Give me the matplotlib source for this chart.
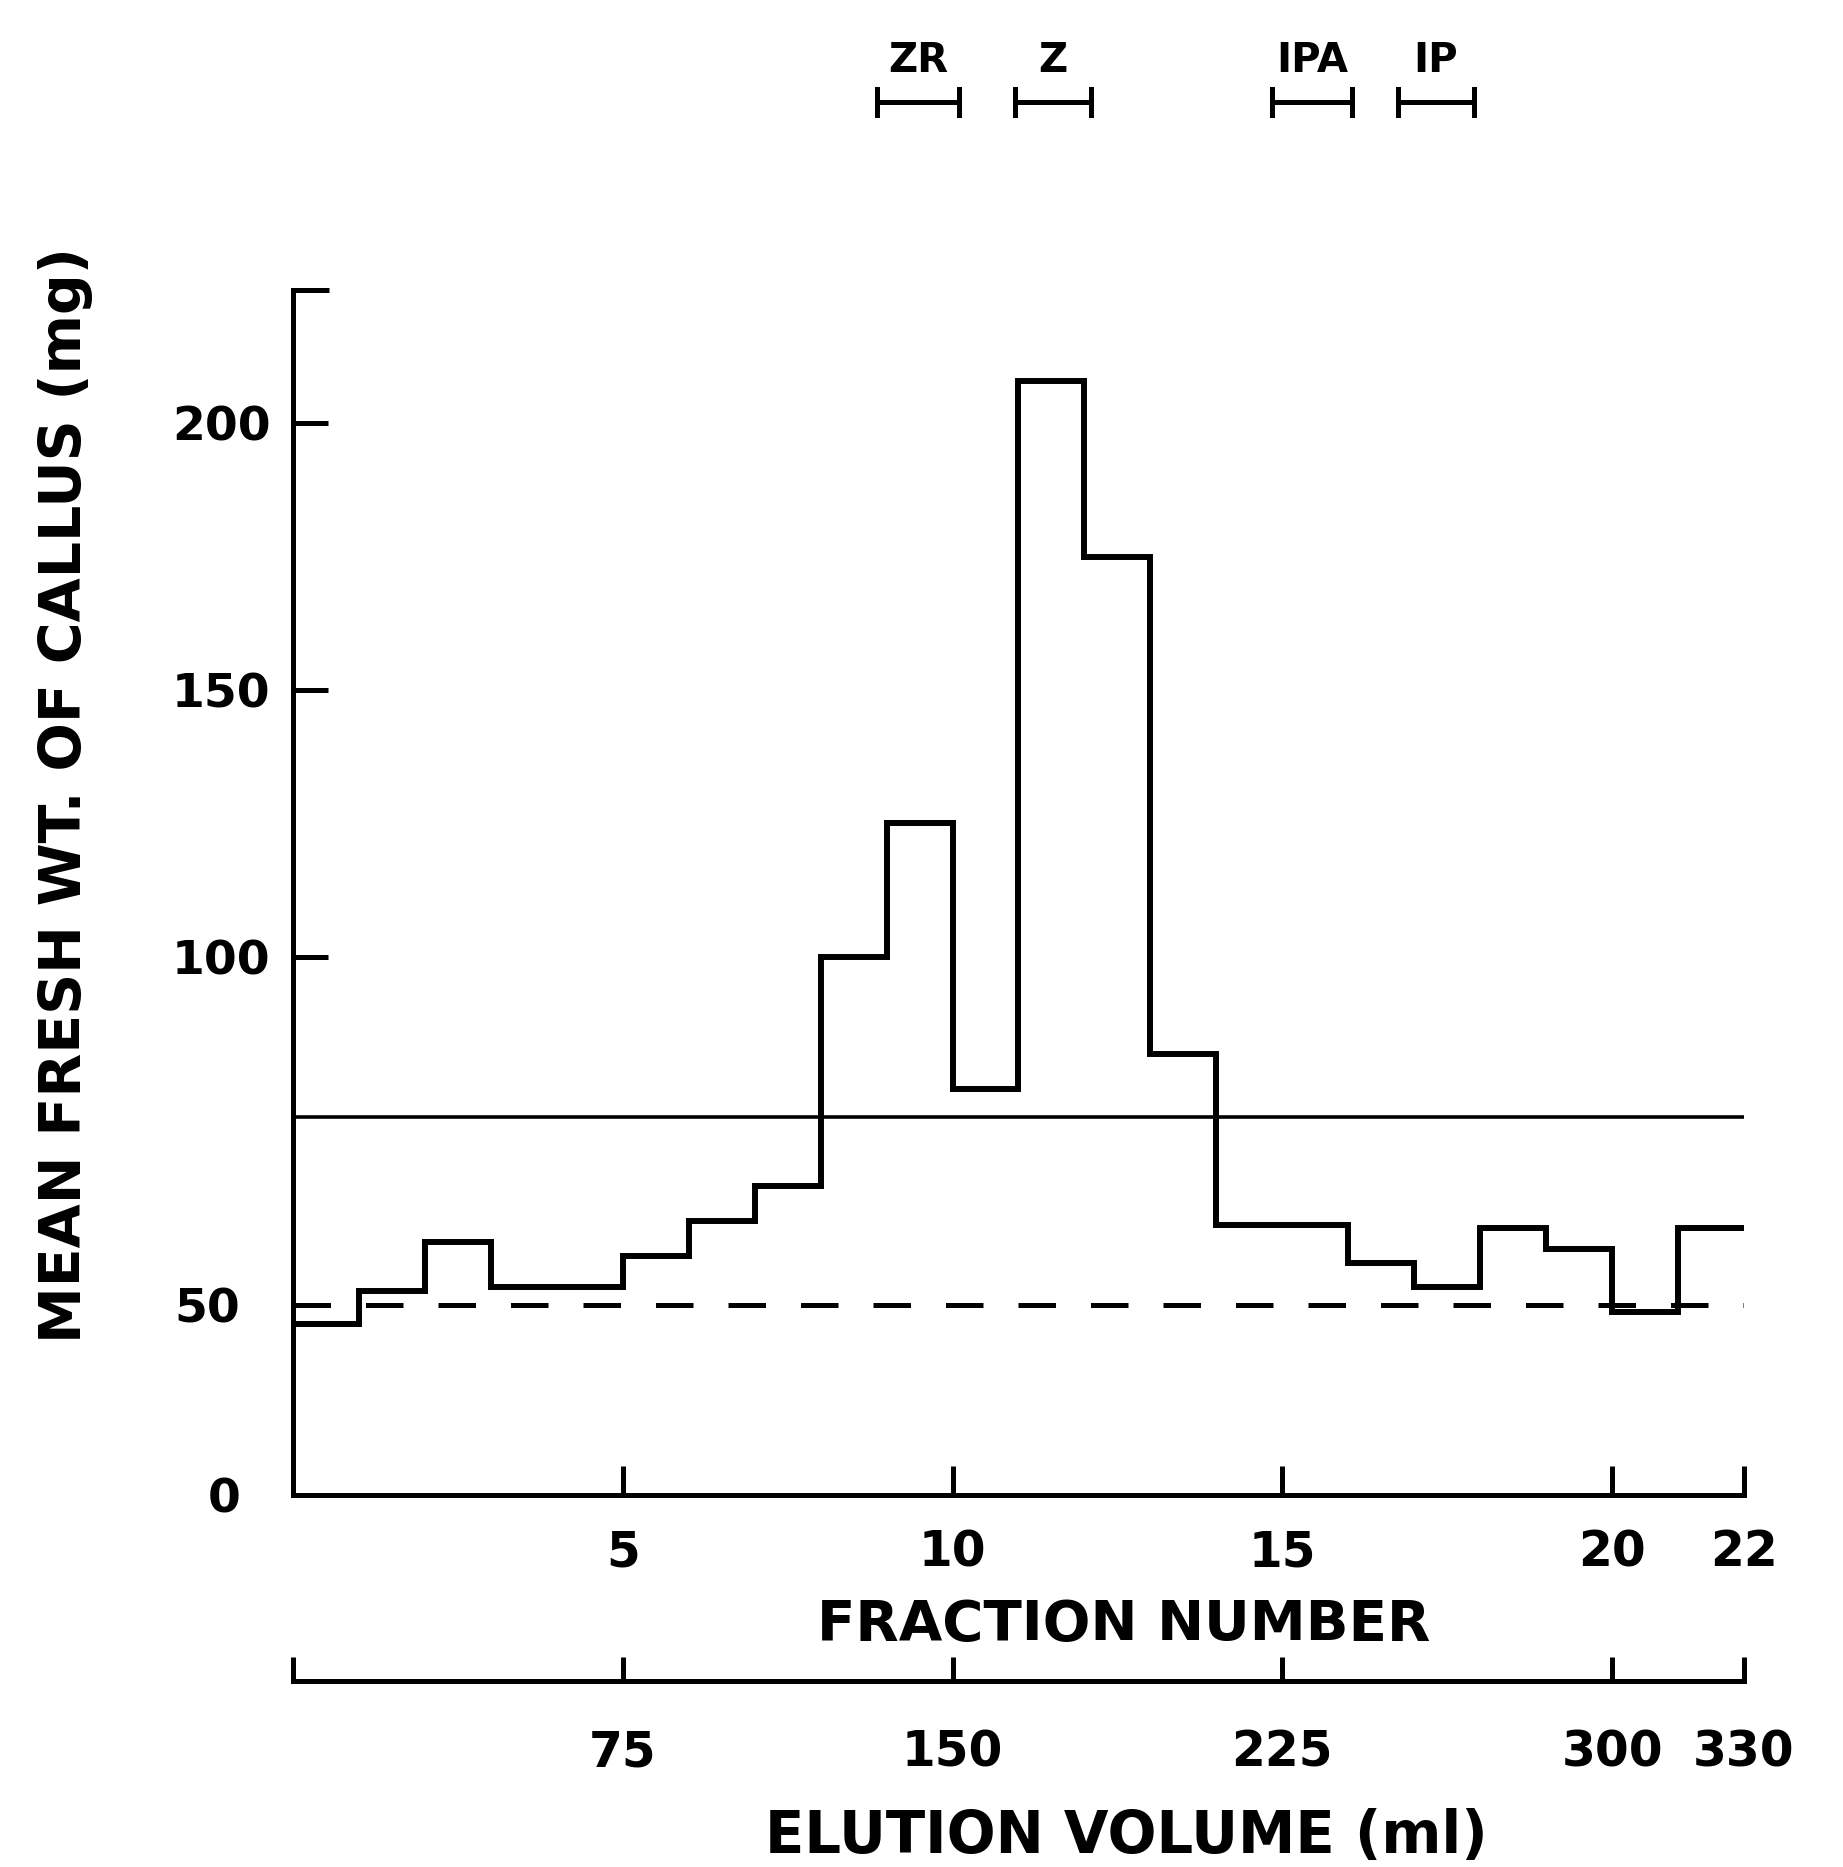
import numpy as np
import matplotlib
matplotlib.use('Agg')
import matplotlib.pyplot as plt

# ---------------- data ----------------
fractions = np.arange(1, 23)
fresh_wt = [45, 52, 59, 52.5, 52.5, 57, 62, 67, 100, 125, 81,
            208, 175, 86, 61.5, 61.5, 56, 52.5, 61, 58, 48, 61]
threshold = 77          # solid horizontal line
control = 50            # dashed horizontal line

y_ticks = [0, 50, 100, 150, 200]
y_ticklabels = ['0', '50', '100', '150', '200']
x_ticks = [5, 10, 15, 20, 22]
x_ticklabels = ['5', '10', '15', '20', '22']
vol_ticks = [75, 150, 225, 300, 330]
vol_ticklabels = ['75', '150', '225', '300', '330']
ml_per_fraction = 15

markers = ['ZR', 'Z', 'IPA', 'IP']
marker_start = [8.85, 10.95, 14.85, 16.75]
marker_end = [10.1, 12.1, 16.05, 17.9]

# ---------------- style ----------------
plt.rcParams['font.family'] = ['DejaVu Sans']
plt.rcParams['font.weight'] = 'bold'
K = 'black'
AX_LW = 3.6

W, H = 1843, 1867
fig = plt.figure(figsize=(W / 100, H / 100), dpi=100)
L, R, B, T = 293, 1744, 1495, 290
ax = fig.add_axes([L / W, 1 - B / H, (R - L) / W, (B - T) / H])

# hand-drawn (non-uniform) vertical scale of the original figure
yv = np.array([-100, 0, 50, 100, 200, 400.])
yp = np.array([-380, 0, 190, 538, 1071, 2137.])


def fwd(v):
    return np.interp(v, yv, yp)


def inv(p):
    return np.interp(p, yp, yv)


ax.set_yscale('function', functions=(fwd, inv))
ax.set_xlim(0, fractions[-1])
ax.set_ylim(0, 225)

edges = np.concatenate([[0], fractions])
ax.stairs(fresh_wt, edges, baseline=None, color=K, lw=4.3)
ax.hlines(threshold, 0, fractions[-1], color=K, lw=2.6)
ax.hlines(control, 0, fractions[-1], color=K, lw=3.6, linestyles=(0, (7.5, 7)))

for s in ['top', 'right']:
    ax.spines[s].set_visible(False)
for s in ['left', 'bottom']:
    ax.spines[s].set_linewidth(AX_LW)
# small cap at top of y axis
ax.plot([0, 0.55], [225, 225], color=K, lw=AX_LW, clip_on=False,
        solid_capstyle='butt')

ax.set_yticks(y_ticks, y_ticklabels)
ax.tick_params(axis='y', direction='in', length=25, width=AX_LW, pad=16,
               labelsize=34)
for t in ax.yaxis.get_major_ticks()[:2]:
    t.tick1line.set_visible(False)
    t.set_pad(38)

ax.set_xticks(x_ticks, x_ticklabels)
ax.tick_params(axis='x', direction='in', length=21, width=AX_LW, pad=24,
               labelsize=35)

# elution volume axis
axv = fig.add_axes([L / W, 1 - 1681 / H, (R - L) / W, 0.0001])
axv.set_xlim(0, fractions[-1] * ml_per_fraction)
axv.set_ylim(0, 1)
for s in ['top', 'left', 'right']:
    axv.spines[s].set_visible(False)
axv.spines['bottom'].set_linewidth(AX_LW)
axv.patch.set_visible(False)
axv.set_yticks([])
axv.set_xticks([0] + vol_ticks, [''] + vol_ticklabels)
axv.tick_params(axis='x', direction='in', length=17, width=AX_LW, pad=34,
                labelsize=35)

# marker brackets on top
trans = ax.get_xaxis_transform()
yb, dy, yt = 1.156, 0.011, 1.190
for name, s, e in zip(markers, marker_start, marker_end):
    ax.plot([s, e], [yb, yb], transform=trans, clip_on=False, color=K, lw=3.6)
    ax.plot([s, s], [yb - dy, yb + dy], transform=trans, clip_on=False, color=K, lw=3.6)
    ax.plot([e, e], [yb - dy, yb + dy], transform=trans, clip_on=False, color=K, lw=3.6)
    ax.text((s + e) / 2, yt, name, transform=trans, ha='center', va='center',
            fontsize=29, fontweight='bold')

fig.text(66 / W, 1 - 795 / H, 'MEAN FRESH WT. OF CALLUS (mg)', rotation=90,
         ha='center', va='center', fontsize=41, fontweight='bold')
fig.text(1124 / W, 1 - 1625 / H, 'FRACTION NUMBER', ha='center', va='center',
         fontsize=40.5, fontweight='bold')
fig.text(1126 / W, 1 - 1836 / H, 'ELUTION VOLUME (ml)', ha='center',
         va='center', fontsize=41.5, fontweight='bold')

fig.savefig('out.png', dpi=100)
